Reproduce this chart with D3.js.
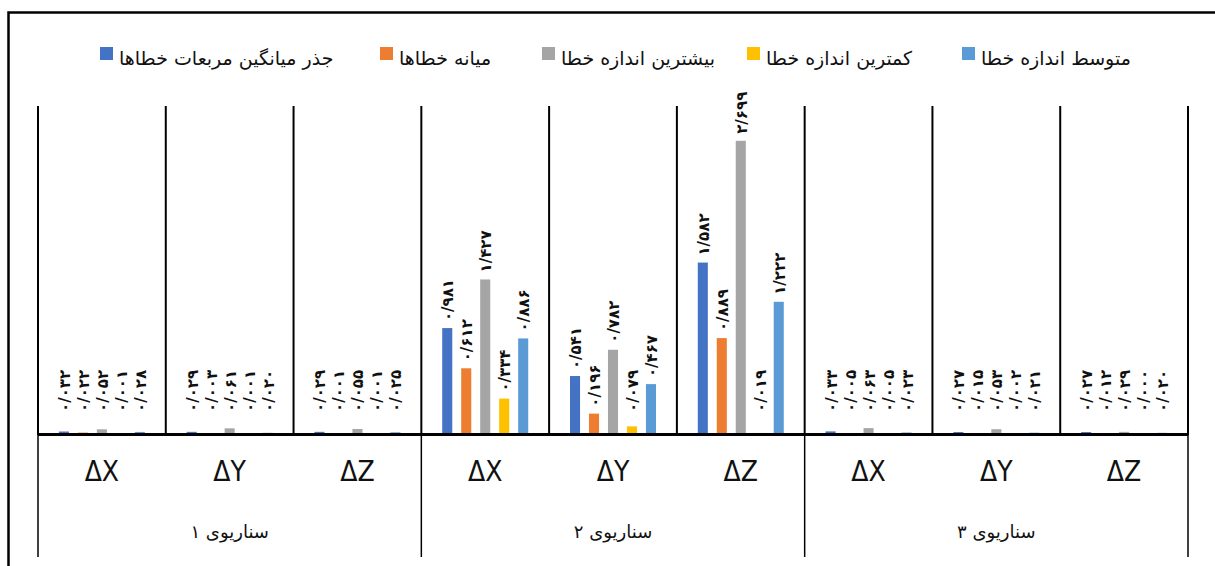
<!DOCTYPE html>
<html>
<head>
<meta charset="utf-8">
<script src="https://cdn.jsdelivr.net/npm/d3@7"></script>
<style>
  body { margin: 0; background: #fff; }
  svg { display: block; }
</style>
</head>
<body>
<div id="chart"></div>
<script>
// chart data
var categories = ["ΔX", "ΔY", "ΔZ", "ΔX", "ΔY", "ΔZ", "ΔX", "ΔY", "ΔZ"];
var scenarios = ["سناریوی ۱", "سناریوی ۲", "سناریوی ۳"];

var seriesNames = ["جذر میانگین مربعات خطاها", "میانه خطاها", "بیشترین اندازه خطا", "کمترین اندازه خطا", "متوسط اندازه خطا"];
var rmseValues   = [0.032, 0.029, 0.029, 0.981, 0.541, 1.582, 0.033, 0.027, 0.027];
var medianValues = [0.022, 0.003, 0.001, 0.612, 0.196, 0.889, 0.005, 0.015, 0.012];
var maxValues    = [0.052, 0.061, 0.055, 1.427, 0.782, 2.699, 0.063, 0.053, 0.029];
var minValues    = [0.001, 0.001, 0.001, 0.334, 0.079, 0.019, 0.005, 0.002, 0.000];
var meanValues   = [0.028, 0.020, 0.025, 0.886, 0.467, 1.222, 0.023, 0.021, 0.020];

var colors = ["#4472C4", "#ED7D31", "#A5A5A5", "#FFC000", "#5B9BD5"];
var legendX = [100, 380, 542, 747, 962];

var width = 1215, height = 566;
var plotLeft = 38, plotRight = 1188, plotBase = 435, plotTop = 108;

var allValues = [rmseValues, medianValues, maxValues, minValues, meanValues];

var svg = d3.select("#chart").append("svg")
    .attr("width", width)
    .attr("height", height);

// outer frame (right/bottom edges run off the picture)
svg.append("rect")
    .attr("x", 8.5).attr("y", 12.5)
    .attr("width", 1300).attr("height", 700)
    .attr("fill", "none").attr("stroke", "#000").attr("stroke-width", 2.5);

var x0 = d3.scaleBand()
    .domain(d3.range(categories.length))
    .range([plotLeft, plotRight])
    .padding(0);

var x1 = d3.scaleBand()
    .domain(d3.range(seriesNames.length))
    .range([0, x0.bandwidth()])
    .paddingInner(0.47)
    .paddingOuter(1.1);

var y = d3.scaleLinear().domain([0, 3]).range([plotBase, plotTop]);

// persian digits
function fa(v) {
    var s = v.toFixed(3).replace(".", "/");
    return s.replace(/[0-9]/g, function (c) { return String.fromCharCode(0x06F0 + (+c)); });
}

function rows(d, i) {
    return allValues.map(function (vals, s) { return { s: s, v: vals[i] }; });
}

// bars
var groups = svg.selectAll(".grp")
    .data(categories)
    .enter().append("g")
    .attr("class", "grp")
    .attr("transform", function (d, i) { return "translate(" + x0(i) + ",0)"; });

groups.selectAll("rect")
    .data(rows)
    .enter().append("rect")
    .attr("x", function (d) { return x1(d.s); })
    .attr("y", function (d) { return y(d.v); })
    .attr("width", x1.bandwidth())
    .attr("height", function (d) { return plotBase - y(d.v); })
    .attr("fill", function (d) { return colors[d.s]; });

// data labels, rotated
groups.selectAll("text")
    .data(rows)
    .enter().append("text")
    .attr("transform", function (d) {
        var ly = Math.min(y(d.v) - 7, plotBase - 23);
        return "translate(" + (x1(d.s) + x1.bandwidth() / 2 + 6) + "," + ly + ") rotate(-90)";
    })
    .attr("text-anchor", "start")
    .style("font-family", "'DejaVu Sans', sans-serif")
    .style("font-size", "15px")
    .style("font-weight", "bold")
    .style("letter-spacing", "3.5px")
    .style("fill", "#111")
    .text(function (d) { return fa(d.v); });

// category separators above the axis
svg.selectAll(".sep")
    .data(d3.range(categories.length + 1))
    .enter().append("line")
    .attr("x1", function (i) { return plotLeft + i * x0.step(); })
    .attr("x2", function (i) { return plotLeft + i * x0.step(); })
    .attr("y1", plotTop - 2).attr("y2", plotBase)
    .attr("stroke", "#000").attr("stroke-width", 2);

// scenario separators below the axis
svg.selectAll(".sep2")
    .data(d3.range(scenarios.length + 1))
    .enter().append("line")
    .attr("x1", function (i) { return plotLeft + i * 3 * x0.step(); })
    .attr("x2", function (i) { return plotLeft + i * 3 * x0.step(); })
    .attr("y1", plotBase).attr("y2", 557)
    .attr("stroke", "#000").attr("stroke-width", 1.5);

// baseline
svg.append("line")
    .attr("x1", plotLeft).attr("x2", plotRight)
    .attr("y1", plotBase - 0.5).attr("y2", plotBase - 0.5)
    .attr("stroke", "#000").attr("stroke-width", 3);

// category labels
svg.selectAll(".cat")
    .data(categories)
    .enter().append("text")
    .attr("x", function (d, i) { return x0(i) + x0.bandwidth() / 2; })
    .attr("y", 481)
    .attr("text-anchor", "middle")
    .style("font-family", "'Liberation Sans Narrow', 'DejaVu Sans Condensed', sans-serif")
    .style("font-size", "28px")
    .style("font-weight", "300")
    .style("fill", "#111")
    .text(function (d) { return d; });

// scenario labels
svg.selectAll(".scn")
    .data(scenarios)
    .enter().append("text")
    .attr("x", function (d, i) { return plotLeft + (i * 3 + 1.5) * x0.step(); })
    .attr("y", 538)
    .attr("text-anchor", "middle")
    .style("font-family", "'DejaVu Sans', sans-serif")
    .style("font-size", "18px")
    .style("letter-spacing", "2px")
    .style("fill", "#111")
    .text(function (d) { return d; });

// legend
var legend = svg.selectAll(".legend")
    .data(seriesNames)
    .enter().append("g")
    .attr("class", "legend")
    .attr("transform", function (d, i) { return "translate(" + legendX[i] + ",0)"; });

legend.append("rect")
    .attr("x", 0).attr("y", 47)
    .attr("width", 13).attr("height", 13)
    .attr("fill", function (d, i) { return colors[i]; });

legend.append("text")
    .attr("x", 19).attr("y", 65)
    .attr("text-anchor", "start")
    .style("font-family", "'DejaVu Sans', sans-serif")
    .style("font-size", "19px")
    .style("fill", "#111")
    .text(function (d) { return d; });
</script>
</body>
</html>
